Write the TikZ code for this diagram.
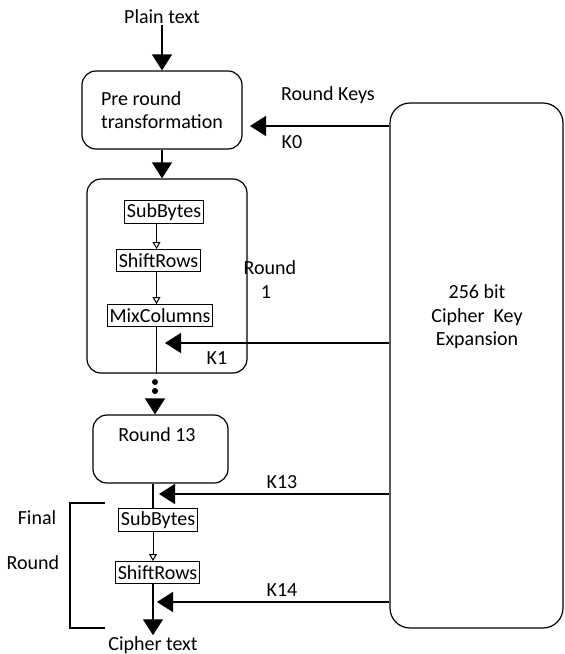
\documentclass[tikz,border=0pt]{standalone}
\usepackage{fontspec}
\setmainfont{Carlito}
\usetikzlibrary{arrows.meta,positioning,calc}

\begin{document}
\begin{tikzpicture}[x=1pt, y=-1pt,
  font=\fontsize{20}{23.5}\selectfont,
  stagebox/.style={rectangle, draw, line width=1.2pt, rounded corners=14pt, align=center},
  opbox/.style={rectangle, draw, line width=1pt, inner sep=2.5pt, minimum height=22pt},
  flow/.style={-{Triangle[width=20pt,length=16pt]}, line width=1.4pt},
  subflow/.style={-{Triangle[open,width=8pt,length=7pt]}, line width=1pt},
  lbl/.style={inner sep=1pt}
]
  \useasboundingbox (0,0) rectangle (565,654);

  % main column
  \node[lbl] (plain) at (162,17) {Plain text};
  \node[stagebox, minimum width=160pt, minimum height=78pt, align=left] (pre) at (162,110) {Pre round\\transformation};
  \node[stagebox, minimum width=160pt, minimum height=194pt] (round1) at (167,276) {};
  \node[opbox] (sub1) at (164,212) {SubBytes};
  \node[opbox] (shift1) at (158.5,260.5) {ShiftRows};
  \node[opbox] (mix1) at (160,315.5) {MixColumns};
  \node[stagebox, minimum width=135pt, minimum height=68pt] (round13) at (160.5,449) {};
  \node[lbl] (r13txt) at (157,435) {Round 13};
  \node[opbox] (sub2) at (158,520) {SubBytes};
  \node[opbox] (shift2) at (157.5,572.5) {ShiftRows};
  \node[lbl] (cipher) at (153,645) {Cipher text};

  % key expansion
  \node[stagebox, rounded corners=20pt, minimum width=173pt, minimum height=525pt] (key) at (476.5,365.5) {};
  \node[lbl, align=center] (keytxt) at (477,317) {256 bit\\Cipher~~Key\\Expansion};

  \coordinate (sp) at (156.5,0);
  \coordinate (sp2) at (153,0);
  \coordinate (k0) at (250,126);
  \coordinate (k1) at (165,343);
  \coordinate (k13) at (159,494);
  \coordinate (k14) at (157,602);
  \coordinate (d3) at (155,399);

  % flow
  \draw[flow] (plain) -- (pre);
  \draw[flow] (pre.south) -- (pre.south |- round1.north);
  \draw[subflow] (sub1.south -| sp) -- (shift1.north -| sp);
  \draw[subflow] (shift1.south -| sp) -- (mix1.north -| sp);
  \draw[line width=1.4pt] (mix1.south -| sp) -- (round1.south -| sp);
  \fill (155,382) circle (3pt) (155,391) circle (3pt);
  \draw[flow] (d3) -- (d3 |- round13.north);
  \draw[line width=1.4pt] (round13.south -| sp2) -- (sub2.north -| sp2);
  \draw[subflow] (sub2.south -| sp2) -- (shift2.north -| sp2);
  \draw[flow] (shift2.south -| sp2) -- (cipher);

  % round keys
  \draw[flow] (key.west |- k0) -- (k0);
  \draw[flow] (key.west |- k1) -- (k1);
  \draw[flow] (key.west |- k13) -- (k13);
  \draw[flow] (key.west |- k14) -- (k14);

  % final round bracket
  \draw[line width=1.2pt] (105,503) -- (70,503) -- (70,628) -- (105,628);

  % labels
  \node[lbl] (rk) at (328,95) {Round Keys};
  \node[lbl] (lk0) at (292,142) {K0};
  \node[lbl] (r1a) at (270,268) {Round};
  \node[lbl] (r1b) at (266,292) {1};
  \node[lbl] (lk1) at (217,358) {K1};
  \node[lbl] (lk13) at (282,482) {K13};
  \node[lbl] (lk14) at (282,590) {K14};
  \node[lbl] (fin) at (37,518) {Final};
  \node[lbl] (frd) at (33,563) {Round};
\end{tikzpicture}
\end{document}
